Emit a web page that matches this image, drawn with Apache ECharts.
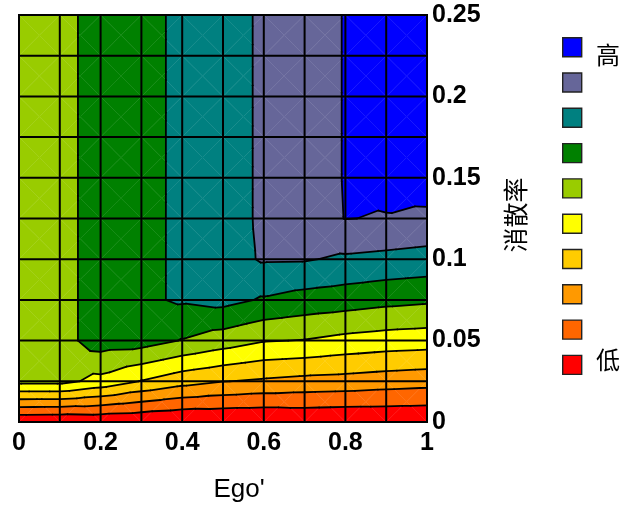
<!DOCTYPE html>
<html>
<head>
<meta charset="utf-8">
<script src="https://cdn.jsdelivr.net/npm/echarts@6/dist/echarts.min.js"></script>
<style>
  html, body { margin: 0; padding: 0; background: #fff; }
  #chart { width: 631px; height: 509px; }
</style>
</head>
<body>
<div id="chart"></div>
<script>
// Grid nodes: Ego along x, dissipation rate along y
const egoValues = [0, 0.1, 0.2, 0.3, 0.4, 0.5, 0.6, 0.7, 0.8, 0.9, 1];
const rateValues = [0, 0.025, 0.05, 0.075, 0.1, 0.125, 0.15, 0.175, 0.2, 0.225, 0.25];

// Node values, one row per rate value (bottom to top), columns follow egoValues
const levelRows = [
  [0.09, 0.05, 0.145, 0.07, -0.08, -0.02, -0.04, 0.1, 0.04, 0.07, 0.06],
  [5.3, 5.3, 4.69, 3.95, 3.38, 3.03, 2.85, 2.7, 2.62, 2.48, 2.37],
  [5.3, 5.6, 6.5, 6.45, 5.95, 5.5, 5.06, 4.96, 4.71, 4.55, 4.47],
  [5.3, 5.6, 6.5, 6.82, 7.12, 7.32, 6.9, 6.62, 6.48, 6.29, 6.17],
  [5.3, 5.6, 6.5, 6.82, 7.12, 7.6, 8.1, 8.08, 7.85, 7.74, 7.62],
  [5.3, 5.6, 6.5, 6.82, 7.12, 7.6, 8.15, 8.6, 9.02, 8.95, 8.8],
  [5.3, 5.6, 6.5, 6.82, 7.12, 7.6, 8.15, 8.6, 9.04, 9.3, 9.5],
  [5.3, 5.6, 6.5, 6.82, 7.12, 7.6, 8.15, 8.6, 9.04, 9.3, 9.5],
  [5.3, 5.6, 6.5, 6.82, 7.12, 7.6, 8.15, 8.6, 9.04, 9.3, 9.5],
  [5.3, 5.6, 6.5, 6.82, 7.12, 7.6, 8.15, 8.6, 9.04, 9.3, 9.5],
  [5.3, 5.6, 6.5, 6.82, 7.12, 7.6, 8.15, 8.6, 9.04, 9.3, 9.5]
];

// Contour thresholds and band fills (low to high)
const contourLevels = [1, 2, 3, 4, 5, 6, 7, 8, 9];
const bandColors = ['#FF0000', '#FF6600', '#FF9900', '#FFCC00', '#FFFF00',
                    '#99CC00', '#008000', '#008080', '#666699', '#0000FF'];
const legendEndLabels = ['高', '低'];
const xAxisTitle = "Ego'";
const yAxisTitle = '消散率';

// Clip a polygon (with linear values at its vertices) to v >= level or v <= level
function clipByLevel(pts, vals, level, keepAbove) {
  const outP = [], outV = [];
  const n = pts.length;
  for (let k = 0; k < n; k++) {
    const a = pts[k], va = vals[k];
    const b = pts[(k + 1) % n], vb = vals[(k + 1) % n];
    const ina = keepAbove ? va >= level : va <= level;
    const inb = keepAbove ? vb >= level : vb <= level;
    if (ina) { outP.push(a); outV.push(va); }
    if (ina !== inb) {
      const t = (level - va) / (vb - va);
      outP.push([a[0] + (b[0] - a[0]) * t, a[1] + (b[1] - a[1]) * t]);
      outV.push(level);
    }
  }
  return [outP, outV];
}

// Split one grid cell into four triangles around its centre
function cellTriangles(i, j) {
  const x0 = egoValues[i], x1 = egoValues[i + 1];
  const y0 = rateValues[j], y1 = rateValues[j + 1];
  const corners = [
    [x0, y0, levelRows[j][i]],
    [x1, y0, levelRows[j][i + 1]],
    [x1, y1, levelRows[j + 1][i + 1]],
    [x0, y1, levelRows[j + 1][i]]
  ];
  const vc = (corners[0][2] + corners[1][2] + corners[2][2] + corners[3][2]) / 4;
  const c = [(x0 + x1) / 2, (y0 + y1) / 2];
  const tris = [];
  for (let k = 0; k < 4; k++) {
    const a = corners[k], b = corners[(k + 1) % 4];
    tris.push([[[a[0], a[1]], [b[0], b[1]], c], [a[2], b[2], vc]]);
  }
  return tris;
}

const cellData = [];
for (let j = 0; j < rateValues.length - 1; j++) {
  for (let i = 0; i < egoValues.length - 1; i++) cellData.push([i, j]);
}
const gridLineData = egoValues.map(v => [0, v]).concat(rateValues.map(v => [1, v]));

function renderBands(params, api) {
  const i = api.value(0), j = api.value(1);
  const children = [];
  cellTriangles(i, j).forEach(([pts, vals]) => {
    for (let b = 0; b < bandColors.length; b++) {
      let p = pts, v = vals;
      if (b > 0) [p, v] = clipByLevel(p, v, contourLevels[b - 1], true);
      if (p.length >= 3 && b < contourLevels.length) [p, v] = clipByLevel(p, v, contourLevels[b], false);
      if (p.length >= 3) {
        children.push({
          type: 'polygon',
          shape: { points: p.map(q => api.coord(q)) },
          style: { fill: bandColors[b], stroke: bandColors[b], lineWidth: 0.4 },
          silent: true
        });
      }
    }
  });
  return { type: 'group', children };
}

function renderContours(params, api) {
  const i = api.value(0), j = api.value(1);
  const children = [];
  cellTriangles(i, j).forEach(([pts, vals]) => {
    contourLevels.forEach(level => {
      const seg = [];
      for (let k = 0; k < 3; k++) {
        const a = pts[k], va = vals[k], b = pts[(k + 1) % 3], vb = vals[(k + 1) % 3];
        if ((va >= level) !== (vb >= level)) {
          const t = (level - va) / (vb - va);
          seg.push([a[0] + (b[0] - a[0]) * t, a[1] + (b[1] - a[1]) * t]);
        }
      }
      if (seg.length === 2) {
        children.push({
          type: 'polyline',
          shape: { points: seg.map(q => api.coord(q)) },
          style: { stroke: '#000', lineWidth: 1.8, fill: null, lineCap: 'round' },
          silent: true
        });
      }
    });
  });
  return { type: 'group', children };
}

function renderGridLines(params, api) {
  const dir = api.value(0), v = api.value(1);
  const xMin = egoValues[0], xMax = egoValues[egoValues.length - 1];
  const yMin = rateValues[0], yMax = rateValues[rateValues.length - 1];
  const p1 = dir === 0 ? api.coord([v, yMin]) : api.coord([xMin, v]);
  const p2 = dir === 0 ? api.coord([v, yMax]) : api.coord([xMax, v]);
  return {
    type: 'line',
    shape: { x1: p1[0], y1: p1[1], x2: p2[0], y2: p2[1] },
    style: { stroke: '#000', lineWidth: 2, lineCap: 'square' },
    silent: true
  };
}

const labelFont = { fontFamily: 'Liberation Sans, Arial, sans-serif', fontWeight: 'bold', fontSize: 25, color: '#000' };

// Legend swatches, high band on top
const legendTop = 37, legendStep = 35.3, swatch = 19, legendLeft = 562;
const legendGraphics = bandColors.slice().reverse().map((col, k) => ({
  type: 'rect',
  left: legendLeft, top: legendTop + k * legendStep,
  shape: { width: swatch, height: swatch },
  style: { fill: col, stroke: '#222', lineWidth: 1.4 }
}));
legendGraphics.push(
  { type: 'text', x: 608, y: 55, style: { text: legendEndLabels[0], fontFamily: 'Noto Sans CJK SC', fontSize: 24, fill: '#000', textAlign: 'center', textVerticalAlign: 'middle' } },
  { type: 'text', x: 608, y: 360, style: { text: legendEndLabels[1], fontFamily: 'Noto Sans CJK SC', fontSize: 24, fill: '#000', textAlign: 'center', textVerticalAlign: 'middle' } },
  { type: 'text', x: 515, y: 215, rotation: Math.PI / 2, style: { text: yAxisTitle, fontFamily: 'Noto Sans CJK SC', fontSize: 25, fill: '#000', textAlign: 'center', textVerticalAlign: 'middle' } },
  { type: 'text', x: 239, y: 490, style: { text: xAxisTitle, fontFamily: 'Liberation Sans Narrow, Liberation Sans, Arial, sans-serif', fontSize: 26, fill: '#000', textAlign: 'center', textVerticalAlign: 'middle' } }
);

const chart = echarts.init(document.getElementById('chart'), null, { renderer: 'canvas' });
chart.setOption({
  animation: false,
  backgroundColor: '#fff',
  grid: { left: 19, top: 15, width: 408, height: 407 },
  xAxis: {
    type: 'value', min: 0, max: 1, interval: 0.2,
    axisLine: { show: false }, axisTick: { show: false }, splitLine: { show: false },
    axisLabel: Object.assign({ margin: 9 }, labelFont)
  },
  yAxis: {
    type: 'value', position: 'right', min: 0, max: 0.25, interval: 0.05,
    axisLine: { show: false }, axisTick: { show: false }, splitLine: { show: false },
    axisLabel: Object.assign({ margin: 5 }, labelFont)
  },
  graphic: legendGraphics,
  series: [
    { type: 'custom', z: 2, data: cellData, renderItem: renderBands, encode: { x: -1, y: -1 } },
    { type: 'custom', z: 3, data: cellData, renderItem: renderContours, encode: { x: -1, y: -1 } },
    { type: 'custom', z: 4, data: gridLineData, renderItem: renderGridLines, encode: { x: -1, y: -1 } }
  ]
});
</script>
</body>
</html>
